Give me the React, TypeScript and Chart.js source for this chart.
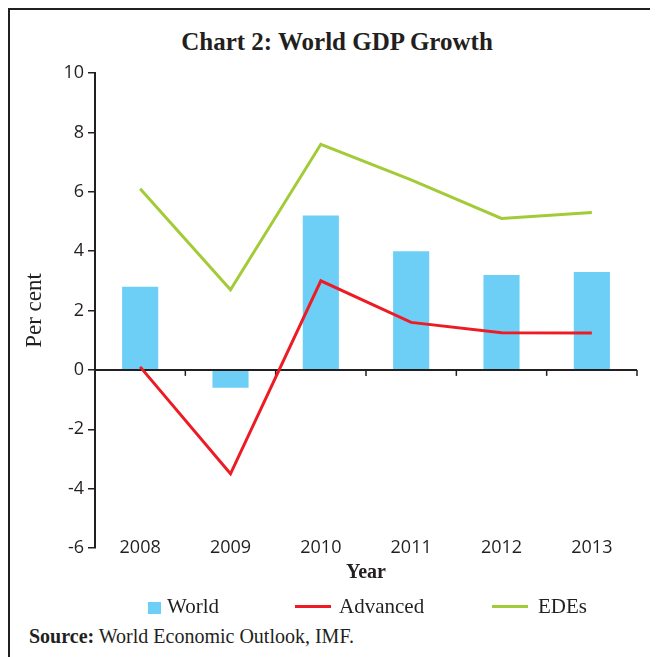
import { useEffect, useRef } from "react";
import { Chart, registerables } from "chart.js";

Chart.register(...registerables);

const years = ["2008", "2009", "2010", "2011", "2012", "2013"];
const world = [2.8, -0.6, 5.2, 4.0, 3.2, 3.3];
const advanced = [0.1, -3.5, 3.0, 1.6, 1.25, 1.24];
const edes = [6.1, 2.7, 7.6, 6.4, 5.1, 5.3];
const yMin = -6;
const yMax = 10;
const yStep = 2;

const INK = "#231F20";
const BLUE = "#6DCFF6";
const RED = "#ED1C24";
const GREEN = "#A3CB38";
const SERIF = '"Liberation Serif", "Times New Roman", serif';
const SANS = '"Open Sans", "Noto Sans", sans-serif';

const zeroAxis = {
  id: "zeroAxis",
  afterDatasetDraw(chart: any, args: any) {
    if (args.index !== 0) return;
    const { ctx, chartArea, scales } = chart;
    const x = scales.x;
    const y = scales.y;
    const py = y.getPixelForValue(0);
    ctx.save();
    ctx.strokeStyle = INK;
    ctx.lineWidth = 2;
    ctx.beginPath();
    ctx.moveTo(chartArea.left, py);
    ctx.lineTo(chartArea.right, py);
    ctx.stroke();
    ctx.lineWidth = 1.5;
    for (let i = 0; i < years.length; i++) {
      const px = x.getPixelForValue(i + 0.5);
      ctx.beginPath();
      ctx.moveTo(px, py);
      ctx.lineTo(px, py + 6);
      ctx.stroke();
    }
    ctx.restore();
  },
};

export default function App() {
  const ref = useRef<HTMLCanvasElement | null>(null);

  useEffect(() => {
    if (!ref.current) return;
    const chart = new Chart(ref.current, {
      type: "bar",
      data: {
        labels: years,
        datasets: [
          {
            type: "bar",
            label: "World",
            data: world,
            backgroundColor: BLUE,
            barPercentage: 0.4,
            categoryPercentage: 1,
            order: 3,
          },
          {
            type: "line",
            label: "Advanced",
            data: advanced,
            borderColor: RED,
            backgroundColor: RED,
            borderWidth: 3,
            pointRadius: 0,
            tension: 0,
            fill: false,
            order: 2,
          },
          {
            type: "line",
            label: "EDEs",
            data: edes,
            borderColor: GREEN,
            backgroundColor: GREEN,
            borderWidth: 3,
            pointRadius: 0,
            tension: 0,
            fill: false,
            order: 1,
          },
        ] as any,
      },
      options: {
        animation: false,
        responsive: true,
        maintainAspectRatio: false,
        layout: { padding: { top: 63, right: 13, bottom: 0, left: 0 } },
        plugins: {
          legend: { display: false },
          tooltip: { enabled: false },
          title: { display: false },
        },
        scales: {
          x: {
            type: "category",
            grid: { display: false, drawTicks: false },
            border: { display: false },
            ticks: {
              color: INK,
              font: { family: SANS, size: 18 },
              mirror: true,
              padding: -11,
              maxRotation: 0,
              autoSkip: false,
            },
            title: {
              display: true,
              text: "Year",
              color: INK,
              font: { family: SERIF, size: 20, weight: "bold" },
              padding: { top: 0, bottom: 15 },
            },
            afterFit: (axis: any) => {
              axis.height = 52;
            },
          },
          y: {
            min: yMin,
            max: yMax,
            ticks: {
              stepSize: yStep,
              color: INK,
              font: { family: SANS, size: 18 },
              padding: 4,
            },
            grid: {
              drawOnChartArea: false,
              drawTicks: true,
              tickLength: 7,
              color: INK,
              lineWidth: 1.5,
            },
            border: { display: true, color: INK, width: 2 },
            title: {
              display: true,
              text: "Per cent",
              color: INK,
              font: { family: SERIF, size: 23 },
              padding: { top: 11, bottom: 0 },
            },
            afterFit: (axis: any) => {
              axis.width = 85;
            },
          },
        },
      } as any,
      plugins: [zeroAxis],
    });
    return () => chart.destroy();
  }, []);

  const textStyle = {
    position: "absolute" as const,
    lineHeight: "24px",
    fontSize: 21,
    whiteSpace: "nowrap" as const,
  };

  return (
    <div
      style={{
        position: "relative",
        width: 650,
        height: 649,
        boxSizing: "border-box",
        borderLeft: `2px solid ${INK}`,
        borderTop: `2px solid ${INK}`,
        fontFamily: SERIF,
        color: INK,
        overflow: "hidden",
      }}
    >
      <div
        style={{
          position: "absolute",
          left: 0,
          top: 18,
          width: 654,
          textAlign: "center",
          fontWeight: "bold",
          fontSize: 25,
          lineHeight: "28px",
        }}
      >
        Chart 2: World GDP Growth
      </div>
      <div style={{ position: "absolute", left: 0, top: 0, width: 640, height: 590 }}>
        <canvas ref={ref} />
      </div>
      <div style={{ position: "absolute", left: 138, top: 592, width: 13, height: 12, background: BLUE }} />
      <div style={{ ...textStyle, left: 157, top: 584 }}>World</div>
      <div style={{ position: "absolute", left: 285, top: 595, width: 36, height: 3, background: RED }} />
      <div style={{ ...textStyle, left: 329, top: 584 }}>Advanced</div>
      <div style={{ position: "absolute", left: 482, top: 595, width: 36, height: 3, background: GREEN }} />
      <div style={{ ...textStyle, left: 528, top: 584 }}>EDEs</div>
      <div style={{ ...textStyle, left: 19, top: 614, fontSize: 20 }}>
        <b>Source:</b> World Economic Outlook, IMF.
      </div>
    </div>
  );
}
